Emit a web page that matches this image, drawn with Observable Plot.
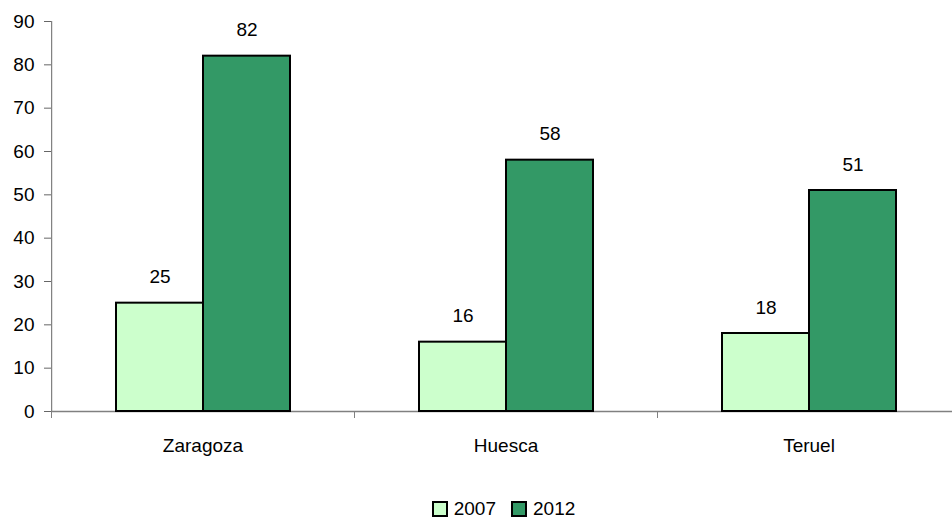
<!DOCTYPE html>
<html>
<head>
<meta charset="utf-8">
<script src="https://cdn.jsdelivr.net/npm/d3@7"></script>
<script src="https://cdn.jsdelivr.net/npm/@observablehq/plot@0.6"></script>
<style>
  html, body { margin: 0; padding: 0; background: #fff; overflow: hidden; }
  body { width: 952px; height: 521px; position: relative; font-family: "Liberation Sans", Arial, sans-serif; }
  #legend { position: absolute; left: 0; width: 1007px; top: 498px; display: flex; justify-content: center; align-items: center; font-size: 19px; color: #000; }
  .item { display: flex; align-items: center; }
  .sw { width: 12px; height: 12px; border: 2px solid #000; margin-right: 6px; }
  .gap { width: 15px; }
</style>
</head>
<body>
<div id="chart"></div>
<div id="legend"></div>
<script>
const categories = ["Zaragoza", "Huesca", "Teruel"];
const years = ["2007", "2012"];
const values2007 = [25, 16, 18];
const values2012 = [82, 58, 51];
const yTicks = [0, 10, 20, 30, 40, 50, 60, 70, 80, 90];
const colors = ["#CCFFCC", "#339966"];

const table = [];
categories.forEach((c, i) => {
  table.push({category: c, year: years[0], value: values2007[i]});
  table.push({category: c, year: years[1], value: values2012[i]});
});

const chart = Plot.plot({
  width: 952,
  height: 470,
  marginLeft: 51,
  marginRight: -8,
  marginTop: 21,
  marginBottom: 59,
  style: {fontFamily: "Liberation Sans, Arial, sans-serif", fontSize: "19px", color: "#000", background: "#fff", overflow: "visible"},
  fx: {domain: categories, paddingInner: 0, paddingOuter: 0, label: null},
  x: {domain: years, paddingInner: 0, paddingOuter: 0.74, axis: null},
  y: {domain: [0, 90], label: null},
  color: {domain: years, range: colors},
  marks: [
    Plot.axisY({ticks: yTicks, tickSize: 7, tickPadding: 10, fontSize: 19, label: null, stroke: "#666"}),
    Plot.ruleX([categories[0]], {fx: d => d, x: () => years[0], y1: 0, y2: 90, dx: -108.3, stroke: "#666"}),
    Plot.axisFx({anchor: "bottom", tickSize: 7, tickFormat: () => "", dx: -151.5, stroke: "#808080", label: null}),
    Plot.axisFx({anchor: "bottom", tickSize: 0, tickPadding: 27, fontSize: 19, label: null}),
    Plot.ruleY([0], {stroke: "#808080", strokeWidth: 1.5}),
    Plot.barY(table, {fx: "category", x: "year", y: "value", fill: "year", stroke: "#000", strokeWidth: 2}),
    Plot.text(table, {fx: "category", x: "year", y: "value", text: d => String(d.value), dy: -26, fontSize: 19, fill: "#000"})
  ]
});
document.getElementById("chart").appendChild(chart);

const legend = document.getElementById("legend");
years.forEach((y, i) => {
  if (i > 0) { const g = document.createElement("div"); g.className = "gap"; legend.appendChild(g); }
  const item = document.createElement("div");
  item.className = "item";
  const sw = document.createElement("div");
  sw.className = "sw";
  sw.style.background = colors[i];
  const t = document.createElement("span");
  t.textContent = y;
  item.appendChild(sw);
  item.appendChild(t);
  legend.appendChild(item);
});
</script>
</body>
</html>
